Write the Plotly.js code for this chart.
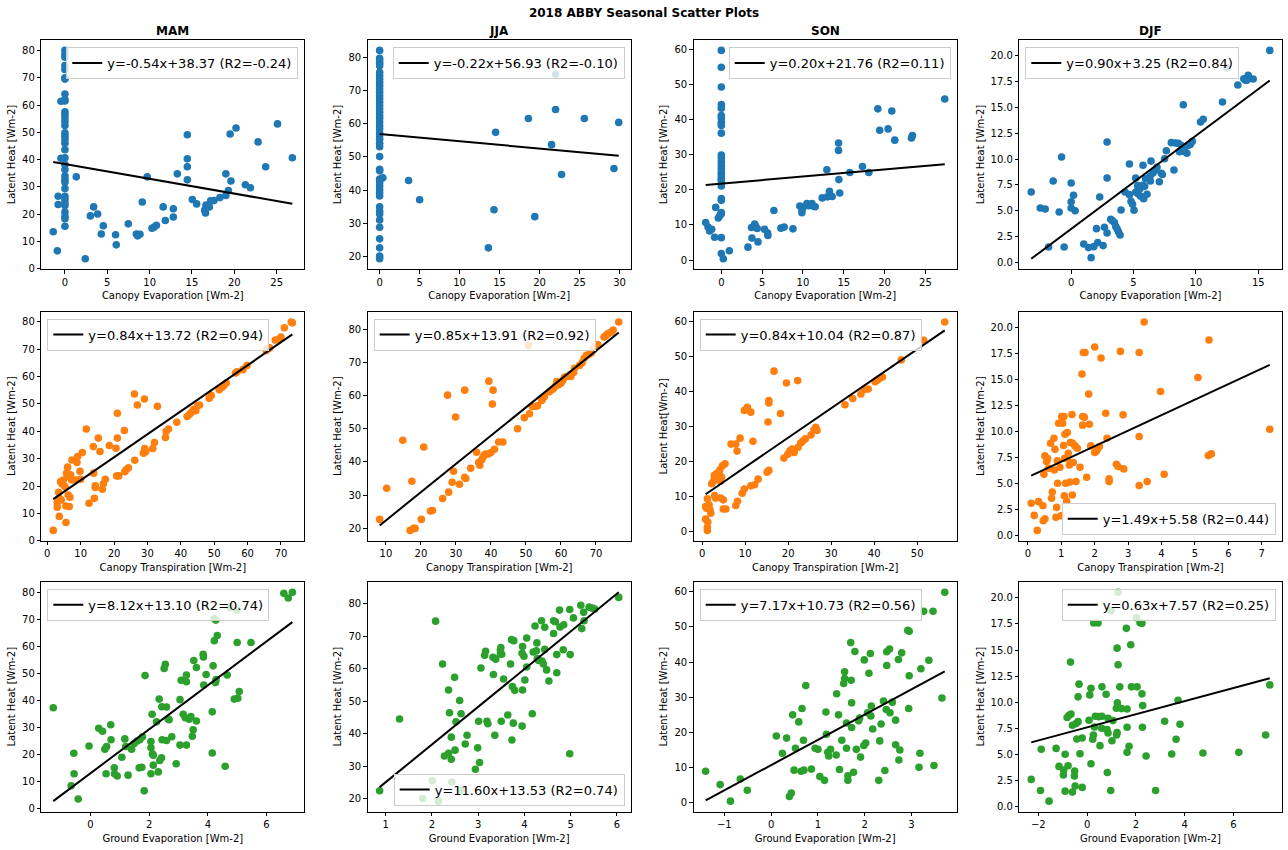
<!DOCTYPE html>
<html>
<head>
<meta charset="utf-8">
<script src="https://cdn.plot.ly/plotly-3.0.1.min.js"></script>
<style>html,body{margin:0;padding:0;background:#fff;}#chart{width:1288px;height:850px;}</style>
</head>
<body>
<div id="chart"></div>
<script>
// ---------------- DATA ----------------
const figureTitle = '2018 ABBY Seasonal Scatter Plots';
const seasons = ['MAM', 'JJA', 'SON', 'DJF'];
const xLabels = ['Canopy Evaporation [Wm-2]', 'Canopy Transpiration [Wm-2]', 'Ground Evaporation [Wm-2]'];
const yLabels = [
  ['Latent Heat [Wm-2]', 'Latent Heat [Wm-2]', 'Latent Heat [Wm-2]', 'Latent Heat [Wm-2]'],
  ['Latent Heat [Wm-2]', 'Latent Heat [Wm-2]', 'Latent Heat[Wm-2]', 'Latent Heat [Wm-2]'],
  ['Latent Heat [Wm-2]', 'Latent Heat [Wm-2]', 'Latent Heat [Wm-2]', 'Latent Heat [Wm-2]']
];
const fitSlope = [[-0.54, -0.22, 0.20, 0.90], [0.84, 0.85, 0.84, 1.49], [8.12, 11.60, 7.17, 0.63]];
const fitIntercept = [[38.37, 56.93, 21.76, 3.25], [13.72, 13.91, 10.04, 5.58], [13.10, 13.53, 10.73, 7.57]];
const fitR2 = [[-0.24, -0.10, 0.11, 0.84], [0.94, 0.92, 0.87, 0.44], [0.74, 0.74, 0.56, 0.25]];

// Row 1: canopy evaporation vs latent heat  [x, y]
const mamEvap = [[0,80],[0,78.5],[0,77.5],[0,74.5],[0,73],[0,70],[0,69.5],[0,64],[0,62],[0,61.5],[0,57.5],[0,56.5],[0,55.3],[0,54],[0,52.5],[0,49.8],[0,48.6],[0,47.4],[0,46],[0,43.6],[0,40.7],[0,38.2],[0,36.4],[0,34],[0,32.7],[0,31.7],[0,29.4],[0,26.6],[0,25.4],[0,24.2],[0,23.2],[0,20.8],[0,19.3],[0,18.4],[0,15.6],
[-0.47,61.4],[-0.47,40.5],[-0.8,26.6],[-0.8,23.6],[-1.38,13.6],[-0.9,6.6],[1.34,33.7],[2.4,3.7],[3.0,19.4],[3.39,22.7],[3.86,20.1],[4.29,12.8],[4.53,15.8],[5.98,12.5],[6.06,8.8],[7.48,16.5],[8.43,12.8],[8.58,12.1],[8.86,12.7],[9.13,24.5],[9.72,33.7],[10.28,14.9],[10.55,15.3],[10.8,16.0],[11.6,22.7],[11.85,17.7],[12.8,22.0],[12.8,19.0],[13.27,34.8],[14.45,49.1],[14.45,40.3],[14.45,37.4],[14.45,32.6],[15.04,25.4],[15.55,23.8],[16.5,21.5],[16.6,20.5],[16.65,23.4],[17.05,22.7],[17.2,24.9],[17.6,25.0],[18.3,26.1],[19.0,26.9],[19.3,28.7],[19.0,34.8],[19.6,32.2],[19.5,49.4],[20.2,51.6],[21.3,30.8],[21.9,29.7],[22.8,46.5],[23.7,37.4],[25.1,53.1],[26.85,40.7]];
const jjaEvap = [[0,82.1],[0,79.7],[0,79],[0,78.2],[0,77.5],[0,75.5],[0,74.5],[0,73.5],[0,72.5],[0,71.5],[0,70.5],[0,69.5],[0,68.5],[0,67.5],[0,66.5],[0,65.5],[0,64.5],[0,63.5],[0,62.5],[0,61.6],[0,60.5],[0,59.4],[0,58.5],[0,57.3],[0,56.4],[0,55.3],[0,54.1],[0,53.1],[0,50.1],[0,46.3],[0,45.8],[0,43.3],[0,42.3],[0,41.2],[0,40.2],[0,39.2],[0,38.2],[0,35.0],[0,33.6],[0,32.8],[0,31.0],[0,28.8],[0,25.3],[0,22.6],[0,20.1],[0,19.3],
[0.4,43.7],[3.62,42.9],[5.0,37.1],[13.6,22.6],[14.3,34.1],[14.5,57.4],[18.6,61.6],[19.4,32.0],[21.5,53.7],[22.0,74.9],[22.0,64.3],[22.75,44.7],[25.6,61.6],[29.3,46.5],[29.9,60.4]];
const sonEvap = [[0,59.6],[0,54.8],[0,49.2],[0,44.2],[0,43.2],[0,41.1],[0,40.4],[0,39.2],[0,38.3],[0,36.1],[0,29.9],[0,29],[0,28],[0,27],[0,26],[0,25],[0,24.3],[0,23.5],[0,23],[0,22.5],[0,21.1],[0,17.5],[0,17],[0,13.5],[0,13.2],[0,6.4],[0,1.9],
[-1.92,10.7],[-1.63,9.4],[-1.43,8.3],[-1.18,8.8],[-0.82,6.5],[-0.69,15.0],[-0.37,12.0],[-0.15,12.8],[0.24,0.4],[0.98,2.7],[3.26,3.7],[3.7,9.3],[3.75,6.3],[4.08,10.3],[4.2,9.7],[4.4,9.0],[4.49,5.2],[5.3,8.8],[5.67,7.7],[5.7,7.0],[6.44,14.1],[7.3,9.1],[7.7,9.4],[8.77,8.9],[9.62,15.4],[9.87,13.5],[9.9,14.5],[10.0,15.0],[10.48,16.1],[10.7,15.5],[11.1,16.1],[11.3,15.3],[11.5,15.2],[12.36,17.7],[12.93,25.7],[13.0,18.0],[13.25,19.6],[13.3,18.6],[13.58,18.1],[14.36,33.3],[14.36,31.2],[14.4,22.9],[14.5,19.1],[15.74,24.9],[17.29,26.6],[18.07,24.9],[19.17,43.0],[19.4,36.9],[20.43,37.3],[20.88,42.4],[21.25,34.1],[23.29,34.7],[23.41,35.4],[27.37,45.8]];
const djfEvap = [[-3.2,6.82],[-2.48,5.27],[-2.08,5.18],[-1.81,1.51],[-1.44,7.88],[-0.96,4.89],[-0.77,10.19],[-0.56,1.51],[0,7.68],[0,5.88],[0,5.27],[0.19,6.5],[0.32,5.0],[1.01,1.8],[1.39,1.45],[1.6,0.48],[1.81,1.54],[2.03,3.28],[2.13,1.93],[2.29,6.33],[2.56,1.64],[2.67,3.41],[2.88,2.86],[2.88,11.64],[2.88,8.17],[3.17,4.18],[3.3,4.05],[3.47,3.86],[3.58,3.47],[3.7,3.22],[3.8,2.96],[3.92,2.67],[4.0,5.08],[4.32,6.82],[4.67,9.52],[4.67,6.56],[4.8,5.92],[4.92,5.63],[5.04,5.05],[5.17,8.17],[5.17,6.82],[5.33,7.43],[5.38,6.62],[5.52,7.14],[5.57,6.4],[5.76,9.39],[5.73,7.46],[5.81,6.17],[5.89,7.36],[5.97,8.1],[6.08,6.59],[6.4,9.8],[6.32,8.33],[6.35,7.88],[6.56,8.65],[6.69,8.9],[6.88,9.2],[7.07,7.81],[7.23,8.62],[7.31,8.5],[7.49,10.03],[7.63,10.8],[8.03,11.58],[8.24,8.94],[8.37,11.55],[8.59,11.51],[8.69,10.71],[8.83,11.3],[8.99,15.24],[8.96,10.9],[9.1,10.71],[9.28,10.55],[9.41,11.32],[9.55,11.4],[9.71,11.7],[10.37,13.57],[10.59,13.83],[12.13,15.5],[12.48,18.78],[13.36,17.14],[13.84,17.75],[13.97,17.6],[14.19,18.07],[14.29,17.8],[14.08,17.6],[14.59,17.72],[15.92,20.48]];

// Row 2: canopy transpiration vs latent heat
const mamTransp = [[1.8,3.8],[3.0,12.3],[3.0,14.0],[3.6,15.5],[3.6,8.9],[3.4,17.7],[4.0,21.6],[4.2,14.9],[4.4,20.8],[4.8,22.2],[5.3,19.8],[5.6,6.7],[5.6,12.7],[5.8,24.7],[6.1,26.9],[6.3,23.4],[6.3,16.7],[6.6,12.5],[6.8,15.9],[7.0,24.1],[7.4,29.5],[7.3,22.2],[8.6,22.2],[8.9,28.6],[9.1,30.8],[9.8,25.4],[10.0,22.5],[10.5,32.2],[11.7,40.8],[12.5,13.7],[13.8,34.4],[13.9,24.7],[14.1,15.5],[14.4,20.1],[14.4,19.5],[15.3,37.5],[15.8,32.6],[16.5,18.8],[16.8,20.8],[17.4,22.5],[18.6,34.8],[20.6,33.8],[20.8,23.7],[21.0,37.5],[21.0,46.6],[21.4,23.7],[23.1,40.3],[23.2,25.2],[23.6,25.9],[24.3,26.7],[26.1,53.6],[26.2,29.4],[27.0,49.6],[29.1,51.8],[28.8,32.0],[29.2,33.7],[29.5,32.6],[31.6,33.7],[32.1,35.9],[33.0,49.1],[35.4,37.7],[35.6,39.9],[36.3,40.8],[38.8,43.3],[41.9,45.4],[42.6,46.2],[43.2,46.9],[43.8,47.9],[44.5,47.5],[45.0,49.3],[45.6,49.6],[48.5,52.1],[49.1,53.1],[51.5,55.2],[52.3,56.0],[52.9,56.7],[53.6,57.6],[56.4,61.3],[56.8,61.7],[58.6,62.5],[59.8,64.0],[65.6,69.5],[66.3,70.2],[66.6,70.5],[68.3,73.3],[69.3,73.5],[70.0,74.4],[71.0,77.8],[73.1,79.9],[73.4,79.6]];
const jjaTransp = [[8.2,22.7],[10.2,32.1],[14.8,46.5],[16.9,19.4],[17.9,20.0],[18.3,20.0],[17.4,34.2],[20.8,44.5],[20.1,22.7],[22.7,25.2],[23.3,25.4],[26.2,29.0],[27.6,60.1],[27.9,30.9],[28.9,33.9],[29.3,37.2],[29.9,53.5],[31.0,33.3],[32.5,61.6],[32.5,35.4],[32.8,35.0],[34.2,38.1],[35.9,42.9],[36.5,39.8],[36.8,39.0],[37.3,40.6],[37.7,41.3],[38.1,42.1],[38.5,42.4],[39.2,42.4],[39.4,64.3],[40.0,42.8],[40.4,57.4],[40.6,61.6],[41.0,43.8],[42.2,46.0],[43.4,46.0],[47.6,50.0],[49.5,53.3],[50.7,75.0],[51.0,54.5],[51.8,56.7],[52.6,56.7],[53.3,56.9],[54.5,58.5],[54.8,59.2],[55.3,59.7],[56.7,61.1],[57.7,61.9],[58.3,62.7],[58.8,64.2],[59.3,63.2],[60.0,63.7],[60.5,64.5],[61.0,65.5],[61.5,65.7],[62.1,65.7],[62.8,65.7],[62.8,66.4],[63.6,66.9],[63.9,68.2],[65.3,69.0],[66.0,69.8],[66.6,71.2],[67.2,72.0],[67.9,72.3],[68.6,72.8],[69.1,73.5],[69.5,74.3],[69.8,74.8],[70.5,75.3],[72.3,77.6],[72.8,78.0],[73.3,78.5],[73.8,78.8],[74.5,79.1],[74.9,79.7],[76.5,82.1]];
const sonTransp = [[0.8,3.6],[1.2,0.4],[1.2,1.3],[1.3,2.8],[0.8,7.2],[1.0,6.7],[1.2,9.4],[1.6,7.7],[1.8,6.3],[2.0,5.3],[2.2,13.7],[2.6,14.4],[2.8,16.0],[2.9,10.3],[3.1,9.6],[3.3,14.8],[3.3,16.5],[3.6,15.8],[3.9,16.9],[4.1,17.7],[4.3,9.6],[4.3,14.4],[4.5,15.6],[4.7,18.8],[4.9,9.1],[4.9,6.5],[5.3,19.4],[5.5,6.5],[6.7,25.0],[7.8,7.5],[7.8,25.0],[8.1,23.0],[8.2,8.7],[8.8,26.7],[9.3,11.0],[9.8,12.2],[9.8,34.6],[10.5,35.5],[11.3,34.1],[11.8,25.8],[11.3,13.1],[12.2,13.4],[13.0,15.0],[15.1,17.0],[15.5,17.5],[15.3,31.3],[15.5,37.4],[15.5,36.7],[16.7,45.8],[18.2,33.7],[19.0,21.0],[19.6,42.4],[19.9,22.1],[20.4,23.1],[20.9,23.6],[21.4,22.6],[22.2,43.1],[22.3,24.1],[22.9,25.3],[23.4,25.9],[24.0,26.5],[25.3,27.6],[26.0,29.1],[26.4,29.8],[26.7,28.9],[33.2,36.2],[35.0,38.0],[36.9,39.3],[37.6,40.5],[38.6,40.7],[40.2,42.8],[40.6,43.1],[41.1,43.6],[41.9,44.1],[46.3,49.0],[51.5,54.6],[56.4,59.8]];
const djfTransp = [[0.10,3.08],[0.19,1.92],[0.28,0.48],[0.32,3.24],[0.45,2.85],[0.46,1.41],[0.48,5.87],[0.51,1.6],[0.51,7.63],[0.56,7.08],[0.59,7.37],[0.62,6.44],[0.68,8.85],[0.71,3.56],[0.73,4.17],[0.78,9.33],[0.79,6.28],[0.81,8.27],[0.84,1.73],[0.86,2.69],[0.88,7.15],[0.89,5.0],[0.92,10.77],[0.96,6.54],[0.99,1.89],[1.01,11.41],[1.04,10.77],[1.07,8.62],[1.08,11.41],[1.09,3.81],[1.10,7.4],[1.11,9.71],[1.13,5.0],[1.16,3.3],[1.18,9.87],[1.21,7.88],[1.24,6.76],[1.26,5.13],[1.27,8.91],[1.29,6.99],[1.32,11.6],[1.33,3.88],[1.34,8.85],[1.36,6.99],[1.41,8.59],[1.44,5.16],[1.48,8.37],[1.56,6.54],[1.62,15.48],[1.64,11.41],[1.66,17.56],[1.64,10.58],[1.69,11.35],[1.71,17.56],[1.76,5.58],[1.82,13.56],[1.84,10.67],[1.88,8.59],[2.0,18.08],[2.0,7.95],[2.05,8.08],[2.08,8.3],[2.14,8.53],[2.19,17.02],[2.33,11.73],[2.37,9.33],[2.43,5.42],[2.43,5.16],[2.65,6.83],[2.70,6.6],[2.77,17.66],[2.85,11.57],[2.87,6.38],[3.33,4.78],[3.33,9.49],[3.33,17.56],[3.48,20.48],[3.57,5.16],[3.97,13.81],[4.08,5.87],[5.09,15.16],[5.4,7.66],[5.49,7.82],[5.42,18.75],[7.24,10.19]];

// Row 3: ground evaporation vs latent heat
const mamGround = [[-1.27,37.3],[-0.66,8.5],[-0.57,20.5],[-0.56,12.9],[-0.42,3.6],[-0.05,23.2],[0.28,29.7],[0.41,28.6],[0.49,22.0],[0.55,23.0],[0.53,12.9],[0.69,31.0],[0.70,25.5],[0.81,15.1],[0.82,12.9],[0.91,12.1],[1.07,19.0],[1.17,25.8],[1.20,23.0],[1.28,12.4],[1.40,22.0],[1.48,24.0],[1.59,25.0],[1.66,15.1],[1.68,25.5],[1.75,15.3],[1.77,26.6],[1.83,6.6],[1.86,49.2],[2.06,24.8],[2.06,22.5],[2.06,12.9],[2.10,34.9],[2.11,20.3],[2.14,19.8],[2.14,16.1],[2.25,32.1],[2.31,13.6],[2.34,40.5],[2.36,17.8],[2.42,18.8],[2.43,37.7],[2.44,25.5],[2.51,51.8],[2.55,53.4],[2.59,25.2],[2.59,37.6],[2.65,33.1],[2.68,32.9],[2.77,26.6],[2.92,16.6],[3.05,23.5],[3.05,40.3],[3.09,47.5],[3.16,34.9],[3.23,33.6],[3.27,49.4],[3.27,46.9],[3.27,23.5],[3.36,33.1],[3.42,34.1],[3.47,26.8],[3.50,29.2],[3.52,54.8],[3.61,52.2],[3.61,32.4],[3.84,57.1],[3.85,56.1],[3.86,45.7],[3.94,49.6],[4.15,35.8],[4.15,20.6],[4.18,52.8],[4.22,62.1],[4.22,70.3],[4.27,69.7],[4.26,46.6],[4.28,47.7],[4.32,64.0],[4.59,15.7],[4.66,49.4],[4.75,74.4],[4.90,40.5],[5.00,61.4],[5.00,73.4],[5.02,40.8],[5.07,43.3],[5.47,61.4],[6.59,79.6],[6.74,77.9],[6.88,80.0]];
const jjaGround = [[0.87,22.5],[1.30,44.6],[1.80,20.1],[2.01,25.6],[2.08,74.7],[2.14,19.3],[2.23,61.5],[2.27,33.2],[2.36,34.0],[2.36,53.5],[2.38,46.5],[2.42,39.0],[2.42,32.2],[2.43,25.2],[2.49,57.4],[2.50,35.0],[2.52,43.7],[2.60,50.3],[2.63,46.2],[2.63,22.7],[2.72,36.9],[2.76,39.6],[2.94,29.1],[2.99,35.7],[3.01,43.9],[3.03,31.2],[3.06,60.3],[3.14,64.2],[3.16,65.4],[3.19,43.9],[3.21,43.1],[3.33,58.3],[3.32,63.6],[3.38,63.0],[3.36,39.6],[3.48,64.6],[3.48,65.8],[3.49,66.6],[3.51,64.5],[3.50,43.9],[3.55,56.9],[3.64,45.8],[3.70,61.5],[3.72,69.0],[3.73,38.1],[3.74,54.6],[3.77,68.7],[3.76,43.3],[3.79,53.4],[3.95,64.8],[3.96,53.5],[3.95,42.4],[3.96,66.9],[3.99,63.9],[4.01,56.6],[4.05,69.5],[4.05,60.6],[4.17,46.2],[4.19,65.2],[4.23,73.2],[4.26,65.6],[4.27,68.0],[4.28,63.2],[4.31,62.6],[4.37,74.8],[4.38,62.4],[4.41,61.5],[4.44,72.8],[4.44,66.0],[4.48,59.7],[4.53,56.3],[4.63,70.9],[4.63,74.8],[4.67,74.5],[4.70,64.4],[4.70,58.8],[4.76,78.1],[4.77,72.9],[4.84,65.9],[4.85,73.6],[4.98,78.3],[4.98,33.9],[4.99,64.4],[5.06,75.7],[5.22,79.6],[5.24,72.4],[5.28,77.4],[5.29,74.8],[5.40,79.0],[5.47,78.7],[5.52,78.4],[6.04,82.0]];
const sonGround = [[-1.40,9.0],[-1.09,5.2],[-0.87,0.5],[-0.66,6.8],[-0.51,3.6],[0.11,19.0],[0.24,14.1],[0.33,18.4],[0.39,1.8],[0.43,2.8],[0.46,25.0],[0.49,9.3],[0.52,15.5],[0.59,23.0],[0.64,9.0],[0.66,26.8],[0.69,17.8],[0.70,9.3],[0.74,33.3],[0.86,9.6],[0.94,15.5],[1.00,15.2],[1.04,7.5],[1.14,6.4],[1.17,25.8],[1.18,19.5],[1.21,14.4],[1.23,13.3],[1.27,15.2],[1.39,13.6],[1.40,31.0],[1.44,25.0],[1.46,9.5],[1.51,17.8],[1.55,33.9],[1.57,37.2],[1.57,35.3],[1.61,22.7],[1.61,15.5],[1.64,7.7],[1.64,6.4],[1.70,45.5],[1.71,34.8],[1.72,28.4],[1.72,21.4],[1.76,8.7],[1.79,43.0],[1.82,15.2],[1.87,23.3],[1.89,24.1],[1.91,13.0],[1.98,16.3],[1.99,40.6],[2.02,17.0],[2.06,25.6],[2.09,36.8],[2.12,42.4],[2.13,24.7],[2.14,27.5],[2.17,21.0],[2.30,6.4],[2.32,17.6],[2.35,22.4],[2.40,28.9],[2.43,9.2],[2.46,26.5],[2.47,39.0],[2.47,42.9],[2.53,43.7],[2.54,25.6],[2.59,28.6],[2.66,23.5],[2.66,16.5],[2.72,40.7],[2.73,12.2],[2.75,15.0],[2.79,42.6],[2.92,49.0],[2.95,48.7],[2.94,26.8],[2.95,36.1],[3.16,10.1],[3.18,14.1],[3.20,38.1],[3.26,54.4],[3.37,40.5],[3.46,54.4],[3.48,10.6],[3.65,29.8],[3.71,59.8]];
const djfGround = [[-2.29,2.57],[-1.91,1.51],[-1.88,5.46],[-1.56,0.48],[-1.27,5.55],[-1.15,3.82],[-0.96,3.47],[-0.97,2.99],[-0.90,4.98],[-0.90,1.44],[-0.78,3.88],[-0.82,8.51],[-0.75,8.7],[-0.68,13.84],[-0.66,8.86],[-0.60,7.77],[-0.60,1.35],[-0.52,2.89],[-0.51,3.37],[-0.49,1.93],[-0.45,7.93],[-0.42,6.45],[-0.37,8.12],[-0.37,10.5],[-0.33,11.72],[-0.29,5.04],[-0.20,6.55],[-0.20,1.8],[0.08,8.25],[0.11,10.69],[0.16,4.08],[0.16,11.33],[0.23,6.42],[0.26,6.84],[0.27,17.59],[0.30,7.61],[0.34,8.64],[0.45,17.59],[0.48,8.6],[0.53,5.81],[0.61,11.46],[0.60,7.48],[0.61,8.64],[0.78,10.75],[0.82,7.35],[0.83,3.24],[0.86,8.44],[0.86,7.03],[0.97,1.51],[0.98,18.78],[1.02,6.29],[1.06,8.22],[1.20,9.41],[1.21,6.84],[1.23,7.06],[1.23,15.18],[1.24,9.92],[1.27,13.58],[1.27,20.55],[1.34,11.46],[1.41,9.37],[1.61,17.08],[1.64,7.58],[1.64,9.34],[1.64,5.17],[1.72,5.75],[1.79,15.5],[1.82,11.46],[2.03,18.1],[2.05,11.46],[2.17,17.62],[2.25,10.79],[2.25,17.56],[2.27,7.58],[2.28,9.66],[2.42,4.82],[2.81,1.51],[3.18,8.15],[3.47,5.01],[3.65,6.42],[3.73,10.18],[3.81,7.87],[4.75,5.1],[6.22,5.17],[7.32,6.84],[7.49,11.65]];

const panelData = [
  [mamEvap, jjaEvap, sonEvap, djfEvap],
  [mamTransp, jjaTransp, sonTransp, djfTransp],
  [mamGround, jjaGround, sonGround, djfGround]
];

// ---------------- STYLE / LAYOUT ----------------
const W = 1288, H = 850;
const rowColors = ['#1f77b4', '#ff7f0e', '#2ca02c'];
const colPx = [[41.3, 304.3], [367.7, 630.7], [693.7, 956.7], [1019.3, 1281.7]];
const rowPx = [[40, 269.2], [311.6, 540.8], [581.8, 811.6]];
const xDtick = [[5, 5, 5, 5], [10, 10, 10, 1], [2, 1, 1, 2]];
const yDtick = [[10, 10, 10, 2.5], [10, 10, 10, 2.5], [10, 10, 10, 2.5]];
const legendLoc = [['ur', 'ur', 'ur', 'ul'], ['ul', 'ul', 'ul', 'lr'], ['ul', 'lr', 'ul', 'ur']];
const FONT = 'DejaVu Sans';

function fmt2(v) { return v.toFixed(2); }

const traces = [];
const layout = {
  width: W, height: H,
  margin: {l: 0, r: 0, t: 0, b: 0},
  paper_bgcolor: '#ffffff', plot_bgcolor: '#ffffff',
  font: {family: FONT, size: 10, color: '#000'},
  showlegend: true,
  annotations: []
};

for (let r = 0; r < 3; r++) {
  for (let c = 0; c < 4; c++) {
    const n = r * 4 + c + 1;
    const sfx = n === 1 ? '' : String(n);
    const pts = panelData[r][c];
    const xs = pts.map(p => p[0]);
    const ys = pts.map(p => p[1]);
    const a = fitSlope[r][c], b = fitIntercept[r][c];
    const xmin = Math.min(...xs), xmax = Math.max(...xs);
    const lx = [xmin, xmax];
    const ly = lx.map(v => a * v + b);

    traces.push({
      type: 'scatter', mode: 'markers', x: xs, y: ys,
      xaxis: 'x' + sfx, yaxis: 'y' + sfx,
      marker: {size: 7.6, color: rowColors[r], line: {width: 0}},
      showlegend: false, hoverinfo: 'skip'
    });
    traces.push({
      type: 'scatter', mode: 'lines', x: lx, y: ly,
      xaxis: 'x' + sfx, yaxis: 'y' + sfx,
      line: {color: '#000', width: 2},
      name: 'y=' + fmt2(a) + 'x+' + fmt2(b) + ' (R2=' + fmt2(fitR2[r][c]) + ')',
      legend: 'legend' + sfx, showlegend: true, hoverinfo: 'skip'
    });

    // matplotlib-like autoscale: 5% margins on data + fit line
    const allY = ys.concat(ly);
    const ymin = Math.min(...allY), ymax = Math.max(...allY);
    const xr = [xmin - 0.05 * (xmax - xmin), xmax + 0.05 * (xmax - xmin)];
    const yr = [ymin - 0.05 * (ymax - ymin), ymax + 0.05 * (ymax - ymin)];

    const common = {
      showgrid: false, zeroline: false, showline: true, mirror: true,
      linecolor: '#000', linewidth: 1, ticks: 'outside', ticklen: 3.5, tickwidth: 1,
      tickcolor: '#000', tickfont: {family: FONT, size: 10, color: '#000'}, tick0: 0,
      automargin: false, fixedrange: true
    };
    layout['xaxis' + sfx] = Object.assign({}, common, {
      domain: [colPx[c][0] / W, colPx[c][1] / W], range: xr, dtick: xDtick[r][c],
      anchor: 'y' + sfx,
      title: {text: xLabels[r], font: {family: FONT, size: 10, color: '#000'}, standoff: 5}
    });
    layout['yaxis' + sfx] = Object.assign({}, common, {
      domain: [1 - rowPx[r][1] / H, 1 - rowPx[r][0] / H], range: yr, dtick: yDtick[r][c],
      anchor: 'x' + sfx, tickformat: c === 3 ? '.1f' : '',
      title: {text: yLabels[r][c], font: {family: FONT, size: 10, color: '#000'}, standoff: 4}
    });

    const loc = legendLoc[r][c];
    const leg = {
      bgcolor: 'rgba(255,255,255,0.8)', bordercolor: '#cccccc', borderwidth: 1,
      font: {family: FONT, size: 13, color: '#000'}, itemwidth: 30,
      xref: 'paper', yref: 'paper'
    };
    if (loc[1] === 'l') { leg.x = (colPx[c][0] + 6) / W; leg.xanchor = 'left'; }
    else { leg.x = (colPx[c][1] - 6) / W; leg.xanchor = 'right'; }
    if (loc[0] === 'u') { leg.y = 1 - (rowPx[r][0] + 7) / H; leg.yanchor = 'top'; }
    else { leg.y = 1 - (rowPx[r][1] - 6) / H; leg.yanchor = 'bottom'; }
    layout['legend' + sfx] = leg;
  }
}

// column titles (seasons)
for (let c = 0; c < 4; c++) {
  layout.annotations.push({
    text: '<b>' + seasons[c] + '</b>', xref: 'paper', yref: 'paper',
    x: (colPx[c][0] + colPx[c][1]) / 2 / W, y: 1 - 31 / H, xanchor: 'center', yanchor: 'middle',
    showarrow: false, font: {family: FONT, size: 12, color: '#000'}
  });
}
layout.title = {
  text: '<b>' + figureTitle + '</b>', x: 0.5, xanchor: 'center', xref: 'paper',
  y: 1 - 13 / H, yanchor: 'middle', yref: 'container',
  font: {family: FONT, size: 12, color: '#000'}
};

Plotly.newPlot('chart', traces, layout, {displayModeBar: false, staticPlot: true});
</script>
</body>
</html>
